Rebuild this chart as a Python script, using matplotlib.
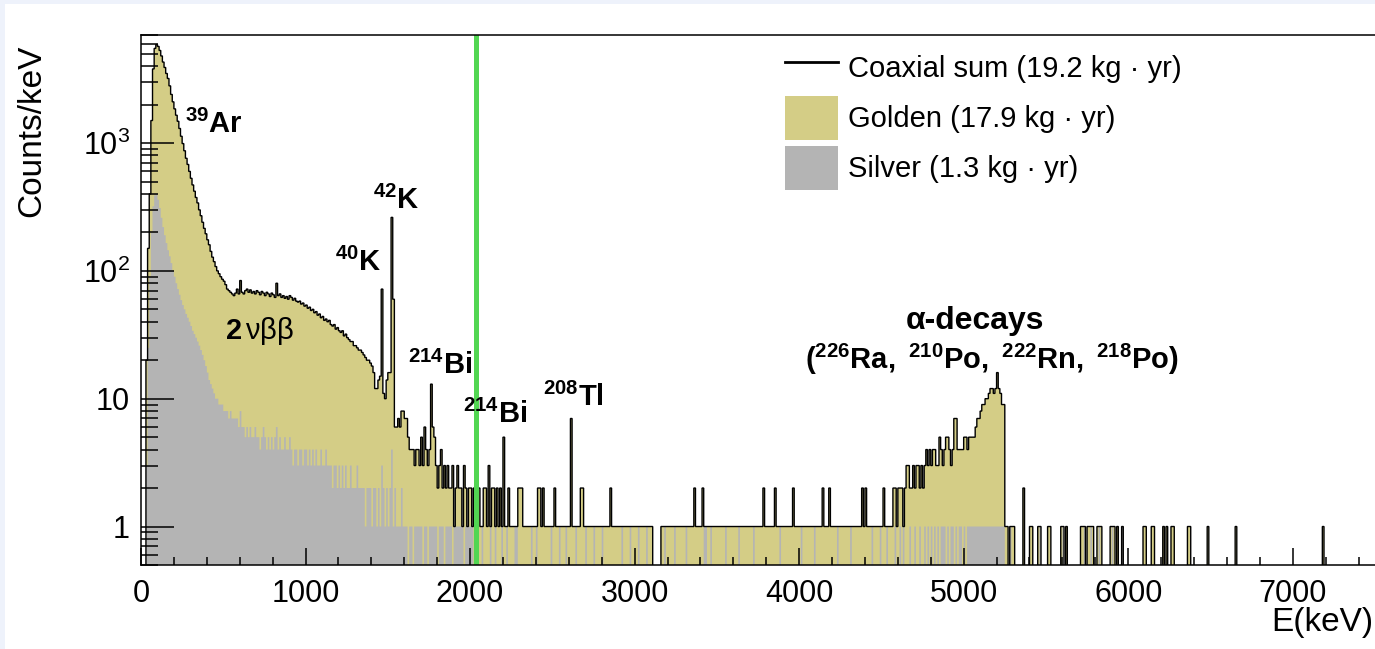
import numpy as np
import matplotlib.pyplot as plt
from matplotlib.lines import Line2D
from matplotlib.patches import Patch, Rectangle
from matplotlib.ticker import FixedLocator, MultipleLocator, LogLocator, NullFormatter

plt.rcParams['font.family'] = ['Liberation Sans', 'DejaVu Sans']
plt.rcParams['mathtext.fontset'] = 'custom'
plt.rcParams['mathtext.rm'] = 'Liberation Sans'
plt.rcParams['mathtext.bf'] = 'Liberation Sans:bold'
plt.rcParams['mathtext.it'] = 'Liberation Sans:italic'

bin_width = 10   # keV
e_max = 7500
q_bb = 2039      # keV, Q value of 76Ge

# coaxial sum, counts per 10 keV bin, 0 - 7500 keV
total_counts = [
    0, 0, 0, 20, 150, 400, 1500, 3800, 5500, 5900, 5700, 5300, 4800, 4300, 3900, 3500, 3200, 2800, 2400, 2100,
    1850, 1650, 1480, 1300, 1130, 990, 870, 760, 680, 600, 530, 470, 420, 375, 340, 300, 270, 240, 215, 195,
    175, 160, 142, 128, 118, 108, 100, 95, 90, 86, 83, 78, 72, 70, 68, 66, 64, 67, 72, 66,
    84, 68, 66, 70, 72, 68, 71, 67, 69, 66, 70, 68, 65, 69, 67, 64, 68, 66, 63, 67,
    65, 62, 80, 64, 66, 62, 64, 61, 63, 60, 64, 62, 59, 61, 58, 57, 58, 55, 56, 53,
    54, 51, 52, 49, 50, 47, 48, 45, 46, 43, 44, 41, 42, 40, 41, 38, 37, 38, 35, 36,
    34, 33, 34, 31, 32, 30, 29, 28, 28, 26, 26, 25, 24, 24, 23, 22, 21, 20, 20, 19,
    18, 16, 12, 12, 14, 15, 72, 11, 10, 14, 16, 16, 262, 60, 6, 6, 7, 6, 8, 8,
    7, 7, 5, 4, 4, 4, 3, 4, 4, 3, 5, 3, 6, 4, 3, 4, 13, 6, 5, 3,
    2, 3, 4, 2, 3, 2, 3, 2, 2, 3, 1, 2, 3, 2, 2, 1, 3, 2, 1, 2,
    2, 1, 2, 2, 1, 2, 1, 1, 2, 2, 1, 3, 1, 2, 2, 1, 2, 1, 2, 1,
    5, 1, 1, 2, 1, 1, 1, 1, 1, 2, 2, 2, 1, 1, 1, 1, 1, 1, 1, 1,
    1, 2, 2, 1, 2, 1, 1, 1, 1, 1, 1, 2, 1, 1, 1, 1, 1, 1, 1, 1,
    1, 7, 1, 1, 1, 1, 1, 2, 2, 1, 1, 1, 1, 1, 1, 1, 1, 1, 1, 1,
    1, 1, 1, 1, 1, 2, 1, 1, 1, 1, 1, 1, 1, 1, 1, 1, 1, 1, 1, 1,
    1, 1, 1, 1, 1, 1, 1, 1, 1, 1, 1, 0, 0, 0, 0, 0, 1, 1, 1, 1,
    1, 1, 1, 1, 1, 1, 1, 1, 1, 1, 1, 1, 1, 1, 1, 1, 2, 1, 1, 1,
    1, 2, 1, 1, 1, 1, 1, 1, 1, 1, 1, 1, 1, 1, 1, 1, 1, 1, 1, 1,
    1, 1, 1, 1, 1, 1, 1, 1, 1, 1, 1, 1, 1, 1, 1, 1, 1, 1, 2, 1,
    1, 1, 1, 1, 1, 2, 1, 1, 1, 1, 1, 1, 1, 1, 1, 1, 2, 1, 1, 1,
    1, 1, 1, 1, 1, 1, 1, 1, 1, 1, 1, 1, 1, 1, 2, 1, 1, 1, 2, 1,
    1, 1, 1, 1, 1, 1, 1, 1, 1, 1, 1, 1, 1, 1, 1, 1, 1, 1, 2, 1,
    2, 1, 1, 1, 1, 1, 1, 1, 1, 1, 1, 2, 1, 1, 1, 1, 1, 2, 2, 1,
    2, 2, 2, 1, 2, 3, 3, 2, 2, 3, 2, 3, 3, 2, 3, 2, 3, 4, 3, 4,
    3, 4, 4, 3, 3, 5, 4, 3, 4, 5, 5, 4, 3, 4, 7, 7, 4, 4, 4, 4,
    5, 5, 4, 5, 5, 5, 5, 6, 7, 7, 8, 9, 9, 10, 10, 11, 12, 12, 11, 12,
    16, 12, 11, 9, 9, 1, 1, 0, 1, 1, 1, 0, 0, 0, 0, 0, 2, 0, 0, 0,
    1, 1, 0, 0, 0, 1, 1, 0, 0, 0, 0, 1, 1, 0, 0, 0, 0, 0, 0, 1,
    1, 0, 1, 0, 0, 0, 0, 0, 0, 0, 0, 1, 1, 1, 0, 1, 1, 1, 1, 0,
    0, 1, 1, 1, 0, 0, 0, 0, 0, 1, 1, 1, 0, 1, 0, 0, 1, 0, 0, 0,
    0, 0, 0, 0, 0, 0, 0, 0, 0, 1, 1, 0, 0, 0, 1, 1, 0, 0, 0, 0,
    0, 1, 0, 1, 0, 0, 1, 1, 0, 0, 0, 0, 0, 0, 0, 0, 1, 1, 0, 0,
    0, 0, 0, 0, 0, 0, 0, 0, 1, 0, 0, 0, 0, 0, 0, 0, 0, 0, 0, 0,
    0, 0, 0, 0, 0, 1, 0, 0, 0, 0, 0, 0, 0, 0, 0, 0, 0, 0, 0, 0,
    0, 0, 0, 0, 0, 0, 0, 0, 0, 0, 0, 0, 0, 0, 0, 0, 0, 0, 0, 0,
    0, 0, 0, 0, 0, 0, 0, 0, 0, 0, 0, 0, 0, 0, 0, 0, 0, 0, 1, 0,
    0, 0, 0, 0, 0, 0, 0, 0, 0, 0, 0, 0, 0, 0, 0, 0, 0, 0, 0, 0,
    0, 0, 0, 0, 0, 0, 0, 0, 0, 0,
]

# silver data set, counts per 10 keV bin, 0 - 2000 keV
silver_low = [
    0, 0, 0, 3, 25, 90, 200, 320, 390, 400, 360, 310, 260, 220, 190, 165, 145, 130, 115, 100,
    90, 80, 72, 65, 59, 54, 50, 46, 43, 40, 37, 34, 32, 30, 28, 26, 24, 22, 20, 18,
    16, 14, 13, 12, 11, 10, 10, 9, 9, 9, 8, 8, 8, 7, 8, 7, 7, 7, 7, 6,
    8, 6, 6, 5, 6, 5, 6, 5, 5, 6, 5, 5, 4, 5, 6, 5, 4, 5, 4, 5,
    4, 5, 6, 4, 5, 4, 4, 5, 4, 4, 5, 4, 3, 4, 4, 3, 4, 4, 3, 4,
    4, 3, 4, 3, 4, 3, 4, 3, 3, 4, 3, 3, 4, 3, 3, 3, 2, 3, 3, 2,
    3, 2, 3, 2, 3, 2, 2, 3, 2, 2, 2, 3, 2, 2, 2, 2, 1, 2, 2, 2,
    1, 2, 2, 1, 2, 1, 3, 2, 1, 2, 1, 2, 4, 1, 2, 1, 1, 1, 2, 1,
    1, 1, 0, 1, 1, 0, 1, 1, 1, 1, 1, 0, 1, 1, 0, 1, 1, 1, 1, 1,
    0, 1, 1, 1, 0, 1, 1, 1, 1, 0, 1, 1, 1, 1, 1, 1, 0, 1, 1, 1,
]

# silver bins above 2000 keV holding a single count (lower bin edge, keV)
silver_tail_keV = [
    2000, 2010, 2040, 2070, 2120, 2150, 2190, 2220, 2270, 2280, 2370, 2400, 2490, 2540, 2580,
    2640, 2700, 2750, 2800, 2920, 2970, 3020, 3070, 3180, 3240, 3310, 3420, 3430, 3460, 3550,
    3630, 3720, 3880, 4010, 4090, 4230, 4310, 4440, 4490, 4530, 4580, 4610, 4630, 4670, 4700,
    4730, 4760, 4780, 4800, 4820, 4840, 4860, 4870, 4880, 4900, 4920, 4930, 4950, 4970, 4980,
    5000, 5020, 5030, 5040, 5050, 5060, 5070, 5080, 5090, 5100, 5110, 5120, 5130, 5140, 5150,
    5160, 5170, 5180, 5190, 5200, 5210, 5220, 5230, 5240, 5280, 5460, 5600, 5730, 5770, 5820,
    5900, 5960,
]

legend_labels = ['Coaxial sum (19.2 kg · yr)', 'Golden (17.9 kg · yr)', 'Silver (1.3 kg · yr)']

gold = '#d4cd86'
grey = '#b4b4b4'

edges = np.arange(0, e_max + bin_width, bin_width)
total = np.array(total_counts, dtype=float)
silver = np.zeros_like(total)
silver[:len(silver_low)] = silver_low
silver[np.array(silver_tail_keV) // bin_width] = 1

# empty bins go below the log axis
floor = 1e-3
tot_plot = np.where(total > 0, total, floor)
sil_plot = np.where(silver > 0, silver, floor)

W, H = 1375, 649
fig = plt.figure(figsize=(W / 100, H / 100), dpi=100)
fig.patch.set_facecolor('#eef2fb')
fig.patches.append(Rectangle((5 / W, 0), 1, 1 - 4 / H, transform=fig.transFigure,
                             facecolor='white', edgecolor='none', zorder=-1))

ax = fig.add_axes([141 / W, 84 / H, 1 - 141 / W, 530 / H])

ax.stairs(tot_plot, edges, baseline=floor, fill=True, color=gold, zorder=1)
ax.stairs(sil_plot, edges, baseline=floor, fill=True, color=grey, zorder=1.1)
ax.stairs(tot_plot, edges, baseline=floor, color='black', lw=1.0, zorder=1.2)
ax.axvline(q_bb, color='#52d652', lw=3.6, zorder=1.3)

ax.set_yscale('log')
ax.set_xlim(0, e_max)
ax.set_ylim(0.5, 7000)

ax.xaxis.set_major_locator(FixedLocator(np.arange(0, 7001, 1000)))
ax.xaxis.set_minor_locator(MultipleLocator(200))
ax.yaxis.set_major_locator(FixedLocator([1, 10, 100, 1000]))
ax.set_yticklabels(['1', '10', r'$10^{2}$', r'$10^{3}$'])
ax.yaxis.set_minor_locator(LogLocator(base=10, subs=np.arange(2, 10)))
ax.yaxis.set_minor_formatter(NullFormatter())

ax.tick_params(axis='x', which='major', direction='in', length=12, width=1.1, labelsize=22, pad=10)
ax.tick_params(axis='x', which='minor', direction='in', length=5.5, width=1.1)
ax.tick_params(axis='y', which='major', direction='in', length=24, width=1.1, labelsize=22, pad=8)
ax.tick_params(axis='y', which='minor', direction='in', length=12, width=1.1)
ax.set_axisbelow(False)

for side in ['left', 'bottom', 'top']:
    ax.spines[side].set_linewidth(1.1)
ax.spines['right'].set_visible(False)

fig.text(32 / W, 1 - 131 / H, 'Counts/keV', rotation=90, ha='center', va='center', fontsize=24)
fig.text(0.999, 1 - 622 / H, 'E(keV)', ha='right', va='center', fontsize=24)

# peak labels
lab = dict(fontsize=21, ha='left', va='baseline')
ax.text(267, 1188, r'$^{\mathbf{39}}\mathbf{Ar}$', **lab)
ax.text(1410, 306, r'$^{\mathbf{42}}\mathbf{K}$', **lab)
ax.text(1179, 100, r'$^{\mathbf{40}}\mathbf{K}$', **lab)
ax.text(511, 29.3, r'$\mathbf{2}\,\mathrm{\nu\beta\beta}$', **lab)
ax.text(1623, 15.6, r'$^{\mathbf{214}}\mathbf{Bi}$', **lab)
ax.text(1957, 6.43, r'$^{\mathbf{214}}\mathbf{Bi}$', **lab)
ax.text(2444, 8.73, r'$^{\mathbf{208}}\mathbf{Tl}$', **lab)
ax.text(5070, 35, 'α-decays', fontsize=23, fontweight='bold', ha='center', va='baseline')
ax.text(5173, 17,
        r'$\mathbf{(}^{\mathbf{226}}\mathbf{Ra,}\ ^{\mathbf{210}}\mathbf{Po,}\ '
        r'^{\mathbf{222}}\mathbf{Rn,}\ ^{\mathbf{218}}\mathbf{Po)}$',
        fontsize=21, ha='center', va='baseline')

handles = [Line2D([], [], color='black', lw=2),
           Patch(facecolor=gold, edgecolor='none'),
           Patch(facecolor=grey, edgecolor='none')]
fig.legend(handles, legend_labels, loc='upper left', bbox_to_anchor=(785 / W, 1 - 46 / H),
           frameon=False, fontsize=21, handlelength=1.8, handleheight=1.95,
           handletextpad=0.35, labelspacing=0.2, borderpad=0, borderaxespad=0)

fig.savefig('out.png', dpi=100)
